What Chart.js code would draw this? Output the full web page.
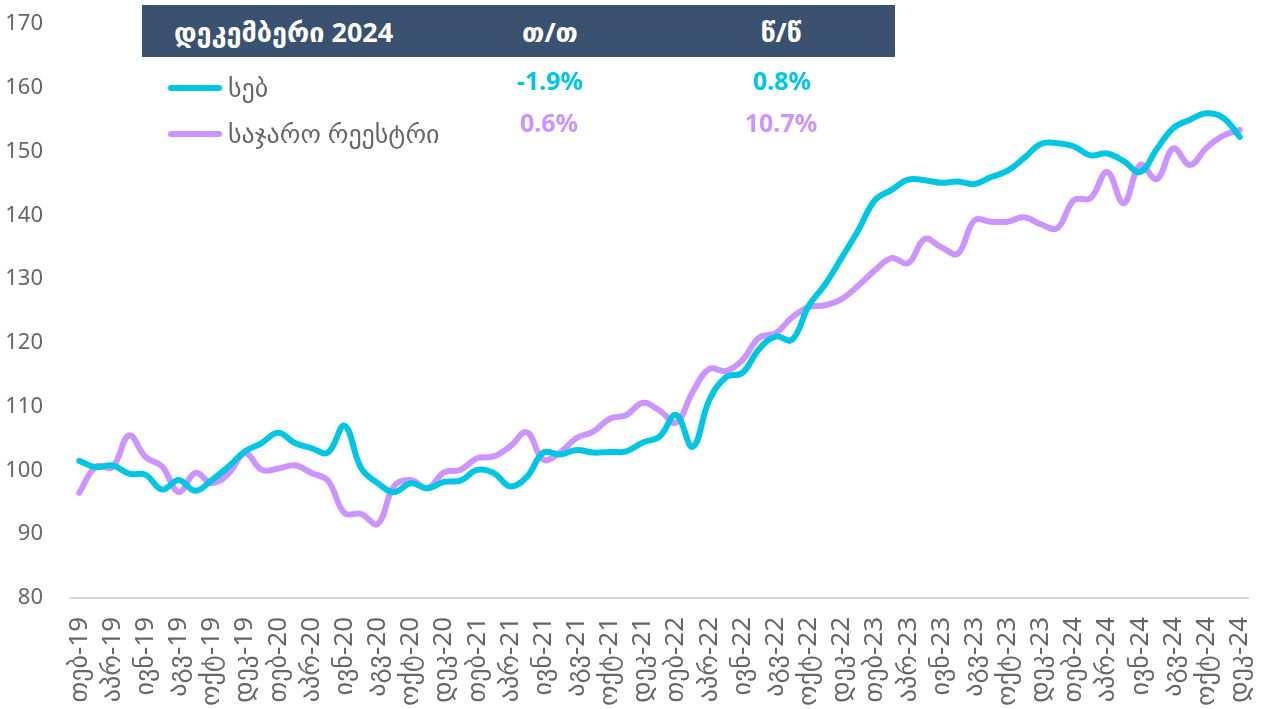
<!DOCTYPE html>
<html>
<head>
<meta charset="utf-8">
<script src="https://cdn.jsdelivr.net/npm/chart.js@4/dist/chart.umd.min.js"></script>
<style>
  html, body { margin: 0; padding: 0; background: #fff; }
  #wrap { position: relative; width: 1263px; height: 709px; font-family: "Noto Sans", "DejaVu Sans", sans-serif; }
  canvas { position: absolute; left: 0; top: 0; }
  .hdr { position: absolute; left: 142px; top: 5px; width: 753px; height: 52px; background: #3A5170; }
  .t { position: absolute; white-space: nowrap; line-height: 1; }
  .h { color: #fff; font-weight: bold; font-size: 27px; transform: translate(0, -50%); }
  .c { transform: translate(-50%, -50%); }
  .v { font-weight: bold; font-size: 25px; }
  .lg { position: absolute; height: 6px; border-radius: 3px; width: 54px; left: 168px; }
  .lt { color: #666; font-size: 26px; transform: translate(0, -50%); left: 228px; }
</style>
</head>
<body>
<div id="wrap">
  <canvas id="c" width="1263" height="709"></canvas>
  <div class="hdr"></div>
  <div class="t h" style="left:174px; top:31px;">დეკემბერი 2024</div>
  <div class="t h c" style="left:550px; top:31px;">თ/თ</div>
  <div class="t h c" style="left:781px; top:31px;">წ/წ</div>
  <div class="t v c" style="left:550px; top:80px; color:#00C5E3;">-1.9%</div>
  <div class="t v c" style="left:782px; top:80px; color:#00C5E3;">0.8%</div>
  <div class="t v c" style="left:549px; top:122px; color:#CC94FF;">0.6%</div>
  <div class="t v c" style="left:781px; top:122px; color:#CC94FF;">10.7%</div>
  <div class="lg" style="top:85px; background:#00C5E3;"></div>
  <div class="t lt" style="top:87px;">სებ</div>
  <div class="lg" style="top:131px; background:#CC94FF;"></div>
  <div class="t lt" style="top:133px;">საჯარო რეესტრი</div>
</div>
<script>
const months = [
  "თებ-19","მარ-19","აპრ-19","მაი-19","ივნ-19","ივლ-19","აგვ-19","სექ-19","ოქტ-19","ნოე-19","დეკ-19",
  "იან-20","თებ-20","მარ-20","აპრ-20","მაი-20","ივნ-20","ივლ-20","აგვ-20","სექ-20","ოქტ-20","ნოე-20","დეკ-20",
  "იან-21","თებ-21","მარ-21","აპრ-21","მაი-21","ივნ-21","ივლ-21","აგვ-21","სექ-21","ოქტ-21","ნოე-21","დეკ-21",
  "იან-22","თებ-22","მარ-22","აპრ-22","მაი-22","ივნ-22","ივლ-22","აგვ-22","სექ-22","ოქტ-22","ნოე-22","დეკ-22",
  "იან-23","თებ-23","მარ-23","აპრ-23","მაი-23","ივნ-23","ივლ-23","აგვ-23","სექ-23","ოქტ-23","ნოე-23","დეკ-23",
  "იან-24","თებ-24","მარ-24","აპრ-24","მაი-24","ივნ-24","ივლ-24","აგვ-24","სექ-24","ოქტ-24","ნოე-24","დეკ-24"
];
const nbgSeries = [
  101.5,100.5,100.8,99.5,99.3,97.0,98.5,96.8,98.5,100.6,103.0,
  104.3,105.9,104.3,103.5,102.8,107.0,100.4,98.0,96.6,98.0,97.2,98.2,
  98.4,100.1,99.6,97.5,99.0,102.8,102.5,103.2,102.8,102.9,103.0,104.4,
  105.3,108.7,103.7,111.0,114.6,115.3,119.0,121.0,120.5,125.8,129.2,133.4,
  137.7,142.4,144.0,145.6,145.5,145.1,145.3,144.9,146.0,147.0,149.0,151.2,
  151.3,150.8,149.4,149.7,148.5,146.8,150.4,153.7,155.0,156.0,155.3,152.3
];
const registrySeries = [
  96.5,100.6,100.5,105.5,102.1,100.6,96.6,99.6,98.0,99.5,102.7,
  100.1,100.3,100.8,99.6,98.4,93.3,93.2,91.6,97.6,98.5,97.2,99.7,
  100.1,101.9,102.2,103.8,106.0,101.7,102.8,105.1,106.1,108.1,108.7,110.6,
  109.4,107.5,112.3,115.9,115.6,117.3,120.8,121.5,124.0,125.6,125.9,126.9,
  129.0,131.4,133.3,132.5,136.3,135.0,134.0,139.2,139.0,139.0,139.7,138.6,
  138.0,142.4,142.7,146.8,141.9,147.9,145.7,150.5,147.9,150.6,152.5,153.4
];
const seriesNames = ["სებ", "საჯარო რეესტრი"];
const yTicks = [80, 90, 100, 110, 120, 130, 140, 150, 160, 170];

const FONT = '"Noto Sans", "DejaVu Sans", sans-serif';
new Chart(document.getElementById('c'), {
  type: 'line',
  data: {
    labels: months,
    datasets: [
      { label: seriesNames[0], data: nbgSeries, borderColor: '#00C5E3', borderWidth: 6, pointRadius: 0, tension: 0.4, fill: false, borderCapStyle: 'round', borderJoinStyle: 'round' },
      { label: seriesNames[1], data: registrySeries, borderColor: '#CC94FF', borderWidth: 6, pointRadius: 0, tension: 0.4, fill: false, borderCapStyle: 'round', borderJoinStyle: 'round' }
    ]
  },
  options: {
    responsive: false,
    animation: false,
    layout: { padding: { top: 24, right: 15, left: 0, bottom: 0 } },
    plugins: { legend: { display: false }, tooltip: { enabled: false } },
    scales: {
      x: {
        type: 'category',
        offset: true,
        grid: { display: false, drawTicks: false },
        border: { display: true, color: '#D9D9D9', width: 2 },
        ticks: {
          autoSkip: false, minRotation: 90, maxRotation: 90, padding: 19,
          color: '#666', font: { family: FONT, size: 26 },
          callback: function (v, i) { return i % 2 === 0 ? months[i] : ''; }
        },
        afterFit: function (s) { s.height = 111; s.paddingLeft = 0; s.paddingRight = 0; }
      },
      y: {
        min: 80, max: 170,
        afterBuildTicks: function (s) { s.ticks = yTicks.map(v => ({ value: v })); },
        grid: { display: false, drawTicks: false },
        border: { display: false },
        ticks: { padding: 28, color: '#666', font: { family: FONT, size: 22 } },
        afterFit: function (s) { s.width = 71; s.paddingTop = 0; s.paddingBottom = 0; }
      }
    }
  }
});
</script>
</body>
</html>
